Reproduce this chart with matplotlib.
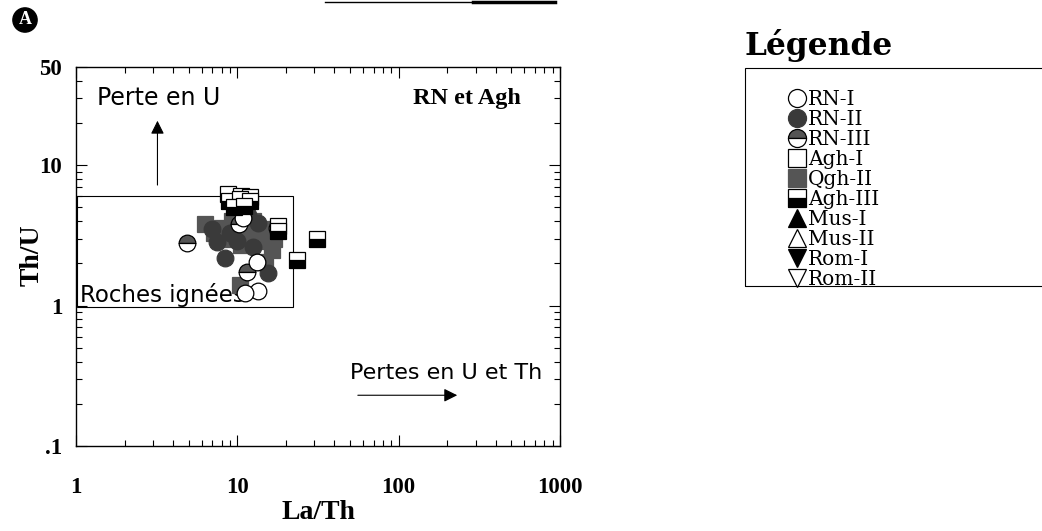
import matplotlib
matplotlib.use("Agg")
import matplotlib.pyplot as plt
from matplotlib.lines import Line2D
from matplotlib.patches import Rectangle
from matplotlib.ticker import FixedLocator, LogLocator, NullFormatter

SERIF = "Liberation Serif"
WIDE_SERIF = "DejaVu Serif"
SANS = "DejaVu Sans"
GRAY = "#555555"
DARK = "#3a3a3a"

# La/Th, Th/U values
rn1_x = [10.8, 13.3, 13.4, 11.1, 17.5]
rn1_y = [4.2, 2.05, 1.28, 1.22, 3.6]
rn2_x = [7.5, 8.4, 15.5, 11.7, 9.0, 13.5, 7.0, 12.5, 10.0]
rn2_y = [2.85, 2.2, 1.72, 4.4, 3.3, 3.9, 3.5, 2.6, 2.9]
rn3_x = [4.9, 11.5, 10.2]
rn3_y = [2.8, 1.74, 3.8]
agh1_x = [8.8, 10.5, 12.0, 18.0]
agh1_y = [6.2, 6.0, 5.9, 3.7]
qgh2_x = [6.3, 7.2, 8.0, 8.8, 9.7, 10.5, 11.5, 13.0, 14.5, 15.0, 16.5, 17.0, 14.9, 10.4, 9.3, 12.5]
qgh2_y = [3.8, 3.3, 3.6, 3.0, 3.4, 2.7, 3.1, 3.3, 3.5, 2.9, 2.5, 3.0, 2.05, 1.4, 4.0, 4.0]
agh3_x = [8.9, 10.4, 12.0, 9.5, 11.0, 17.8, 23.5, 31.0]
agh3_y = [5.6, 5.7, 5.6, 5.0, 5.1, 3.4, 2.1, 3.0]

legend_labels = ["RN-I", "RN-II", "RN-III", "Agh-I", "Qgh-II", "Agh-III",
                 "Mus-I", "Mus-II", "Rom-I", "Rom-II"]

# igneous rocks field
field_x = [1.02, 22]
field_y = [0.98, 6.0]

# marker styles for each group
styles = {
    "RN-I": dict(marker="o", mfc="white", mec="black"),
    "RN-II": dict(marker="o", mfc=DARK, mec=DARK),
    "RN-III": dict(marker="o", mfc=GRAY, mec="black", fillstyle="top", markerfacecoloralt="white"),
    "Agh-I": dict(marker="s", mfc="white", mec="black"),
    "Qgh-II": dict(marker="s", mfc=GRAY, mec=GRAY),
    "Agh-III": dict(marker="s", mfc="black", mec="black", fillstyle="bottom", markerfacecoloralt="white"),
    "Mus-I": dict(marker="^", mfc="black", mec="black"),
    "Mus-II": dict(marker="^", mfc="white", mec="black"),
    "Rom-I": dict(marker="v", mfc="black", mec="black"),
    "Rom-II": dict(marker="v", mfc="white", mec="black"),
}

fig = plt.figure(figsize=(10.42, 5.31), dpi=100)
ax = fig.add_axes([0.0729, 0.160, 0.4645, 0.7137])
ax.set_xscale("log")
ax.set_yscale("log")
ax.set_xlim(1, 1000)
ax.set_ylim(0.1, 50)

# field box
ax.add_patch(Rectangle((field_x[0], field_y[0]), field_x[1] - field_x[0], field_y[1] - field_y[0],
                       fill=False, ec="black", lw=0.8, zorder=1))
ax.text(1.06, 1.06, "Roches ignées", family=SANS, fontsize=16.5, va="baseline", ha="left", zorder=2)

ms = 12
groups = [("Qgh-II", qgh2_x, qgh2_y), ("RN-II", rn2_x, rn2_y), ("RN-III", rn3_x, rn3_y),
          ("RN-I", rn1_x, rn1_y), ("Agh-I", agh1_x, agh1_y), ("Agh-III", agh3_x, agh3_y)]
for name, xs, ys in groups:
    ax.plot(xs, ys, ls="none", ms=ms, mew=0.9, zorder=3, **styles[name])

# annotations
ax.text(1.35, 30, "Perte en U", family=SANS, fontsize=17, va="center", ha="left")
ax.annotate("", xy=(3.2, 21.7), xytext=(3.2, 6.9),
            arrowprops=dict(arrowstyle="-|>", color="black", lw=0.8, mutation_scale=20))
ax.text(265, 30, "RN et Agh", family=SERIF, fontsize=17.5, fontweight="bold", va="center", ha="center")
ax.text(50, 0.33, "Pertes en U et Th", family=SANS, fontsize=16, va="center", ha="left")
ax.annotate("", xy=(240, 0.23), xytext=(53.7, 0.23),
            arrowprops=dict(arrowstyle="-|>", color="black", lw=0.8, mutation_scale=20))

# ticks
ax.xaxis.set_major_locator(FixedLocator([1, 10, 100, 1000]))
ax.set_xticklabels(["1", "10", "100", "1000"])
ax.xaxis.set_minor_locator(LogLocator(base=10, subs=range(2, 10)))
ax.xaxis.set_minor_formatter(NullFormatter())
ax.yaxis.set_major_locator(FixedLocator([0.1, 1, 10, 50]))
ax.set_yticklabels([".1", "1", "10", "50"])
ax.yaxis.set_minor_locator(LogLocator(base=10, subs=range(2, 10)))
ax.yaxis.set_minor_formatter(NullFormatter())
ax.tick_params(which="both", direction="in", top=True, right=True, width=0.8)
ax.tick_params(which="major", length=8)
ax.tick_params(which="minor", length=4)
ax.tick_params(axis="x", which="major", pad=22)
ax.tick_params(axis="y", which="major", pad=10)
for lab in ax.get_xticklabels() + ax.get_yticklabels():
    lab.set_family(SERIF)
    lab.set_fontweight("bold")
    lab.set_fontsize(16.5)
for s in ax.spines.values():
    s.set_linewidth(1.0)

ax.set_xlabel("La/Th", family=SERIF, fontweight="bold", fontsize=20)
ax.set_ylabel("Th/U", family=SERIF, fontweight="bold", fontsize=20)
ax.xaxis.set_label_coords(0.5, -0.143)
ax.yaxis.set_label_coords(-0.064, 0.504)

# badge "A"
fig.text(25 / 1042, 1 - 20 / 531, "A", family=SERIF, fontweight="bold", fontsize=13, color="white",
         ha="center", va="center",
         bbox=dict(boxstyle="circle,pad=0.2", fc="black", ec="black"))

# stray line at top of the scan
fig.add_artist(Line2D([325 / 1042, 555 / 1042], [1 - 1.5 / 531, 1 - 1.5 / 531], color="black", lw=1))
fig.add_artist(Line2D([473 / 1042, 555 / 1042], [1 - 1.5 / 531, 1 - 1.5 / 531], color="black", lw=2.5))

# legend
fig.text(745 / 1042, 1 - 45 / 531, "Légende", family=WIDE_SERIF, fontweight="bold", fontsize=22.5,
         ha="left", va="center")
fig.add_artist(Rectangle((745 / 1042, 1 - 286 / 531), 320 / 1042, 218 / 531, fill=False,
                         ec="black", lw=0.8, transform=fig.transFigure))
handles = [Line2D([], [], ls="none", ms=13, mew=0.9, **styles[n]) for n in legend_labels]
leg = fig.legend(handles, legend_labels, loc="upper left", bbox_to_anchor=(788 / 1042, 1 - 90 / 531),
                 frameon=False, prop={"family": WIDE_SERIF, "size": 14.5}, handlelength=0.9,
                 handletextpad=0.1, labelspacing=0.05, borderpad=0, borderaxespad=0)

fig.savefig("out.png", dpi=100)
